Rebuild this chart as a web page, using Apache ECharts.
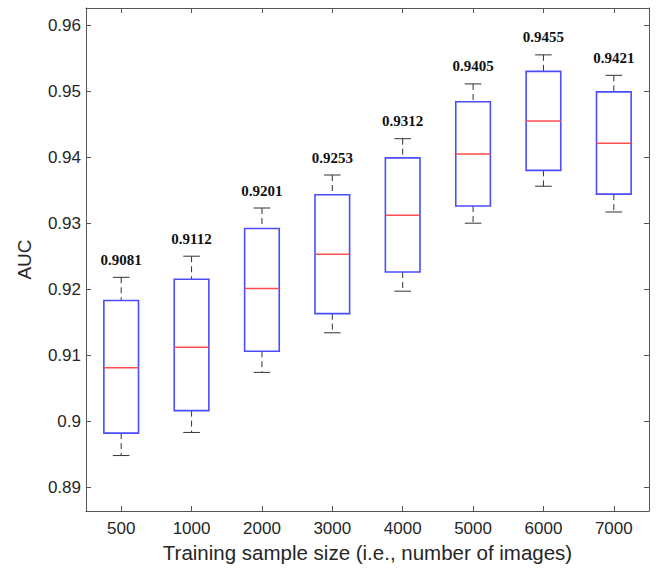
<!DOCTYPE html>
<html>
<head>
<meta charset="utf-8">
<script src="https://cdn.jsdelivr.net/npm/echarts@6/dist/echarts.min.js"></script>
<style>
  html, body { margin: 0; padding: 0; background: #fff; }
  #chart { width: 657px; height: 570px; }
</style>
</head>
<body>
<div id="chart"></div>
<script>
// ---- data ----
const categories = ['500', '1000', '2000', '3000', '4000', '5000', '6000', '7000'];
const whiskerLow  = [0.8948, 0.8983, 0.9074, 0.9134, 0.9197, 0.9300, 0.9356, 0.9317];
const quartile1   = [0.8982, 0.9016, 0.9106, 0.9163, 0.9226, 0.9326, 0.9380, 0.9344];
const medians     = [0.9081, 0.9112, 0.9201, 0.9253, 0.9312, 0.9405, 0.9455, 0.9421];
const quartile3   = [0.9183, 0.9215, 0.9292, 0.9343, 0.9399, 0.9484, 0.9530, 0.9499];
const whiskerHigh = [0.9218, 0.9250, 0.9323, 0.9373, 0.9428, 0.9511, 0.9555, 0.9524];
const yTickValues = [0.89, 0.90, 0.91, 0.92, 0.93, 0.94, 0.95, 0.96];
const yMin = 0.8864, yMax = 0.9626;

const boxData = categories.map((c, i) =>
  [i, whiskerLow[i], quartile1[i], medians[i], quartile3[i], whiskerHigh[i]]);

const axisColor = '#555';
const labelColor = '#262626';
const sansFont = '"Liberation Sans", Arial, Helvetica, sans-serif';

function renderItem(params, api) {
  const x = api.value(0);
  const pLo = api.coord([x, api.value(1)]);
  const pQ1 = api.coord([x, api.value(2)]);
  const pMd = api.coord([x, api.value(3)]);
  const pQ3 = api.coord([x, api.value(4)]);
  const pHi = api.coord([x, api.value(5)]);
  const band = api.size([1, 0])[0];
  const hw = band * 0.246;
  const cw = hw * 0.48;
  const cx = pMd[0];
  const dashStyle = { stroke: '#333', lineWidth: 1, lineDash: [6, 4] };
  const capStyle = { stroke: '#333', lineWidth: 1 };
  const text = medians[params.dataIndex].toFixed(4);
  return {
    type: 'group',
    children: [
      { type: 'line', shape: { x1: cx, y1: pHi[1], x2: cx, y2: pQ3[1] }, style: dashStyle },
      { type: 'line', shape: { x1: cx, y1: pQ1[1], x2: cx, y2: pLo[1] }, style: dashStyle },
      { type: 'line', shape: { x1: cx - cw, y1: pHi[1], x2: cx + cw, y2: pHi[1] }, style: capStyle },
      { type: 'line', shape: { x1: cx - cw, y1: pLo[1], x2: cx + cw, y2: pLo[1] }, style: capStyle },
      { type: 'rect', shape: { x: cx - hw, y: pQ3[1], width: 2 * hw, height: pQ1[1] - pQ3[1] },
        style: { fill: 'rgba(255,255,255,0)', stroke: '#4b4bff', lineWidth: 1.6 } },
      { type: 'line', shape: { x1: cx - hw, y1: pMd[1], x2: cx + hw, y2: pMd[1] },
        style: { stroke: '#ff4d4d', lineWidth: 1.5 } },
      { type: 'text', x: cx, y: pHi[1] - 10,
        style: { text: text, textAlign: 'center', textVerticalAlign: 'bottom',
                 font: 'bold 15px "Liberation Serif", "Times New Roman", serif', fill: '#111' } }
    ]
  };
}

const chart = echarts.init(document.getElementById('chart'), null, { renderer: 'svg' });
chart.setOption({
  animation: false,
  backgroundColor: '#fff',
  grid: { left: 86, right: 8, top: 8, bottom: 59, containLabel: false },
  xAxis: [
    {
      type: 'category', data: categories, position: 'bottom',
      boundaryGap: true,
      name: 'Training sample size (i.e., number of images)',
      nameLocation: 'middle', nameGap: 31,
      nameTextStyle: { fontFamily: sansFont, fontSize: 20.5, color: labelColor },
      axisLine: { show: true, lineStyle: { color: axisColor, width: 1 } },
      axisTick: { show: true, inside: true, alignWithLabel: true, length: 5, lineStyle: { color: axisColor } },
      axisLabel: { fontFamily: sansFont, fontSize: 17, color: labelColor, margin: 9 },
      splitLine: { show: false }
    },
    {
      type: 'category', data: categories, position: 'top',
      boundaryGap: true,
      axisLine: { show: true, lineStyle: { color: axisColor, width: 1 } },
      axisTick: { show: true, inside: true, alignWithLabel: true, length: 5, lineStyle: { color: axisColor } },
      axisLabel: { show: false },
      splitLine: { show: false }
    }
  ],
  yAxis: [
    {
      type: 'value', min: yMin, max: yMax, position: 'left',
      name: 'AUC', nameLocation: 'middle', nameGap: 52,
      nameTextStyle: { fontFamily: sansFont, fontSize: 19, color: labelColor },
      axisLine: { show: true, lineStyle: { color: axisColor, width: 1 } },
      axisTick: { show: true, inside: true, length: 5, lineStyle: { color: axisColor }, customValues: yTickValues },
      axisLabel: { fontFamily: sansFont, fontSize: 17, color: labelColor, margin: 5,
                   customValues: yTickValues,
                   formatter: v => String(Math.round(v * 100) / 100) },
      splitLine: { show: false }
    },
    {
      type: 'value', min: yMin, max: yMax, position: 'right',
      axisLine: { show: true, lineStyle: { color: axisColor, width: 1 } },
      axisTick: { show: true, inside: true, length: 5, lineStyle: { color: axisColor }, customValues: yTickValues },
      axisLabel: { show: false },
      splitLine: { show: false }
    }
  ],
  series: [
    {
      type: 'custom',
      xAxisIndex: 0, yAxisIndex: 0,
      renderItem: renderItem,
      encode: { x: 0, y: [1, 2, 3, 4, 5] },
      data: boxData,
      clip: false
    }
  ]
});
</script>
</body>
</html>
